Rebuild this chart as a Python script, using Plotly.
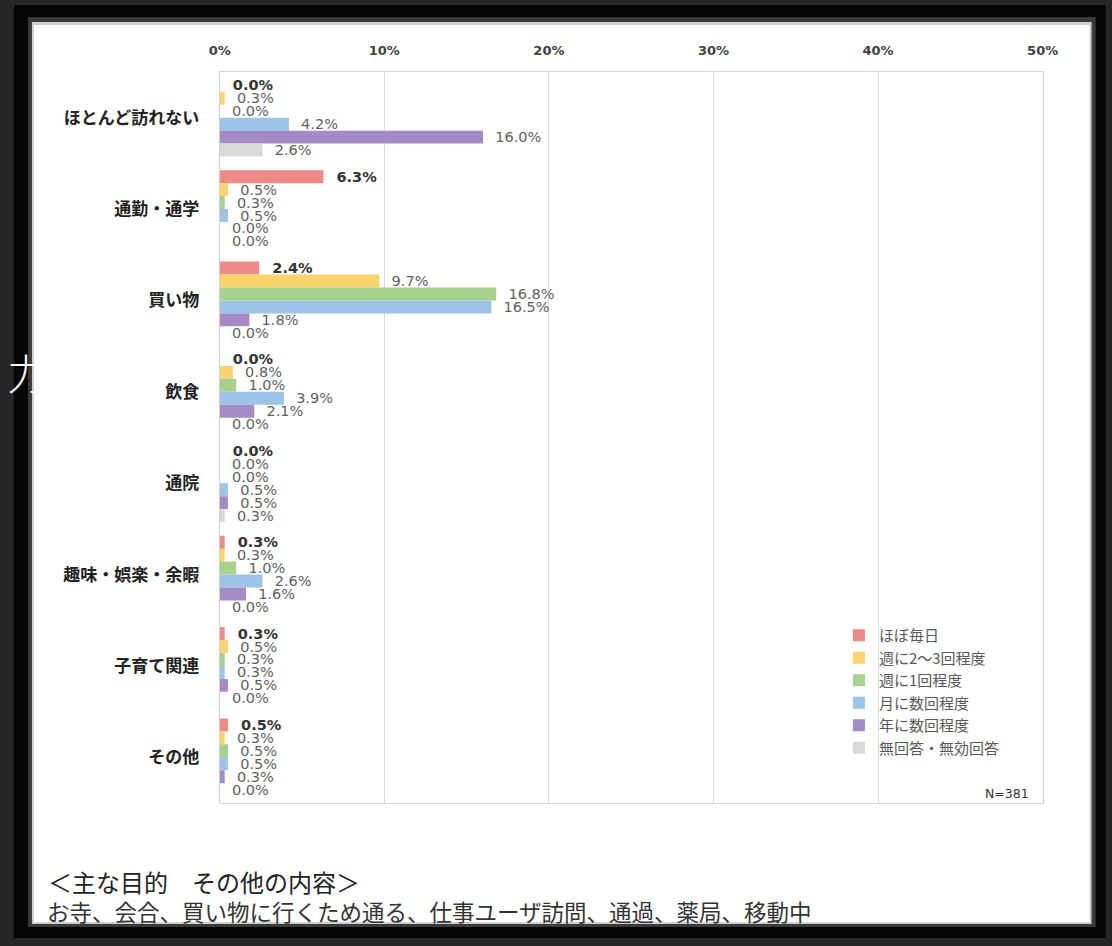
import plotly.graph_objects as go

# Purposes (y categories), top to bottom
categories = ["ほとんど訪れない", "通勤・通学", "買い物", "飲食", "通院",
              "趣味・娯楽・余暇", "子育て関連", "その他"]

# Visit frequency series (percent of respondents)
series_names = ["ほぼ毎日", "週に2～3回程度", "週に1回程度", "月に数回程度",
                "年に数回程度", "無回答・無効回答"]
daily =       [0.0, 6.3, 2.4, 0.0, 0.0, 0.3, 0.3, 0.5]
twice_week =  [0.3, 0.5, 9.7, 0.8, 0.0, 0.3, 0.5, 0.3]
once_week =   [0.0, 0.3, 16.8, 1.0, 0.0, 1.0, 0.3, 0.5]
few_month =   [4.2, 0.5, 16.5, 3.9, 0.5, 2.6, 0.3, 0.5]
few_year =    [16.0, 0.0, 1.8, 2.1, 0.5, 1.6, 0.5, 0.3]
no_answer =   [2.6, 0.0, 0.0, 0.0, 0.3, 0.0, 0.0, 0.0]
series_values = [daily, twice_week, once_week, few_month, few_year, no_answer]

colors = ["#EE8A88", "#FDD36E", "#A9D18E", "#9DC3E6", "#A48BC6", "#D9D9D9"]

tick_vals = [0, 10, 20, 30, 40, 50]
tick_text = ["0%", "10%", "20%", "30%", "40%", "50%"]

FONT = "Noto Sans CJK JP"
NUM_FONT = "DejaVu Sans"
W, H = 1112, 946


def px_x(x):
    # horizontal pixel -> paper fraction
    return ((x - 10) / 0.977) / W


def px_y(y):
    return 1 - y / H


fig = go.Figure()
for i, (name, vals, col) in enumerate(zip(series_names, series_values, colors)):
    fig.add_trace(go.Bar(
        name=name,
        y=categories,
        x=vals,
        orientation="h",
        marker=dict(color=col, line=dict(width=0)),
        text=[f"\u00a0\u00a0{v:.1f}%" for v in vals],
        textposition="outside",
        constraintext="none",
        cliponaxis=False,
        textfont=dict(family=NUM_FONT, size=14.5,
                      color="#333333" if i == 0 else "#5f5f5f",
                      weight="bold" if i == 0 else "normal"),
        hoverinfo="skip",
    ))

# Frame: dark outer surround, black band, white panel
shapes = [
    dict(type="rect", xref="paper", yref="paper",
         x0=px_x(13), x1=px_x(1106), y0=px_y(938), y1=px_y(5),
         fillcolor="#050505", line=dict(width=0), layer="below"),
    dict(type="rect", xref="paper", yref="paper",
         x0=px_x(27), x1=px_x(1096), y0=px_y(927), y1=px_y(17),
         fillcolor="#3a3a3a", line=dict(width=0), layer="below"),
    dict(type="rect", xref="paper", yref="paper",
         x0=px_x(31), x1=px_x(1092), y0=px_y(924), y1=px_y(22),
         fillcolor="#cfcfcf", line=dict(width=0), layer="below"),
    dict(type="rect", xref="paper", yref="paper",
         x0=px_x(33), x1=px_x(1090), y0=px_y(922), y1=px_y(25),
         fillcolor="#ffffff", line=dict(width=0), layer="below"),
]

annotations = [
    dict(text="N=381", xref="paper", yref="paper", x=px_x(1031), y=px_y(793),
         xanchor="right", yanchor="middle", showarrow=False,
         font=dict(family=NUM_FONT, size=12.5, color="#333333")),
    dict(text="＜主な目的　その他の内容＞", xref="paper", yref="paper",
         x=px_x(45), y=px_y(881), xanchor="left", yanchor="middle",
         showarrow=False, font=dict(family=FONT, size=24, color="#222222")),
    dict(text="お寺、会合、買い物に行くため通る、仕事ユーザ訪問、通過、薬局、移動中",
         xref="paper", yref="paper", x=px_x(44), y=px_y(911),
         xanchor="left", yanchor="middle", showarrow=False,
         font=dict(family=FONT, size=22.5, color="#333333")),
    dict(text="力", xref="paper", yref="paper", x=px_x(27), y=px_y(371),
         xanchor="center", yanchor="middle", showarrow=False,
         font=dict(family=FONT, size=42, color="#ffffff", weight=300)),
]

fig.update_layout(
    width=W, height=H,
    margin=dict(l=0, r=0, t=0, b=0),
    paper_bgcolor="#262626",
    plot_bgcolor="rgba(0,0,0,0)",
    barmode="group",
    bargap=0.15,
    bargroupgap=0.0,
    shapes=shapes,
    annotations=annotations,
    showlegend=True,
    legend=dict(
        x=px_x(839), y=px_y(619), xanchor="left", yanchor="top",
        bgcolor="rgba(0,0,0,0)", borderwidth=0,
        font=dict(family=FONT, size=15, color="#595959"),
        traceorder="normal", itemwidth=30, tracegroupgap=0,
    ),
    xaxis=dict(
        domain=[px_x(219), px_x(1043)],
        range=[0, 50], side="top",
        tickvals=tick_vals, ticktext=tick_text,
        tickfont=dict(family=NUM_FONT, size=13, color="#404040", weight="bold"),
        showgrid=True, gridcolor="#d9d9d9", gridwidth=1,
        showline=True, linecolor="#d9d9d9", mirror=True,
        zeroline=False, ticks="", ticklabelstandoff=11, fixedrange=True,
    ),
    yaxis=dict(
        domain=[px_y(803), px_y(72)],
        autorange="reversed",
        tickfont=dict(family=FONT, size=17, color="#222222", weight="bold"),
        showline=True, linecolor="#d0d0d0", mirror=True,
        showgrid=False, ticks="", ticklabelstandoff=16, fixedrange=True,
    ),
)

fig.write_html("out.html")
